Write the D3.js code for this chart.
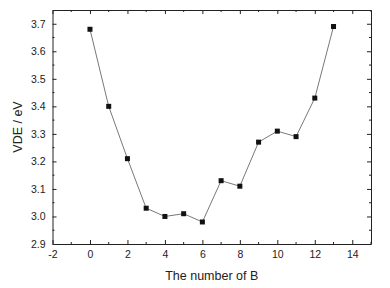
<!DOCTYPE html>
<html>
<head>
<meta charset="utf-8">
<script src="https://cdn.jsdelivr.net/npm/d3@7"></script>
<style>
  body { margin: 0; background: #fff; }
  svg text { font-family: "Liberation Sans", Arial, sans-serif; fill: #222; }
</style>
</head>
<body>
<svg id="chart" width="390" height="288"></svg>
<script>
// data
const nB = [0, 1, 2, 3, 4, 5, 6, 7, 8, 9, 10, 11, 12, 13];
const vde = [3.68, 3.40, 3.21, 3.03, 3.00, 3.01, 2.98, 3.13, 3.11, 3.27, 3.31, 3.29, 3.43, 3.69];
const xTicks = [-2, 0, 2, 4, 6, 8, 10, 12, 14];
const yTicks = [2.9, 3.0, 3.1, 3.2, 3.3, 3.4, 3.5, 3.6, 3.7];

const svg = d3.select("#chart");
const m = { left: 52.5, right: 19, top: 10, bottom: 44 };
const W = 390, H = 288;

const x = d3.scaleLinear().domain([-2, 15]).range([m.left, W - m.right]);
const y = d3.scaleLinear().domain([2.9, 3.75]).range([H - m.bottom, m.top]);

const minorX = d3.range(-1, 16, 2);
const minorY = d3.range(2.95, 3.75, 0.1);

function ticks(g, axis, major) {
  g.call(axis.tickValues(major).tickSizeInner(-4).tickSizeOuter(0))
    .call(a => a.select(".domain").attr("stroke", "#222").attr("stroke-width", 1));
  g.selectAll(".tick line").attr("stroke", "#222");
  g.selectAll(".tick text").attr("font-size", 10.5).attr("fill", "#222");
  return g;
}

// bottom
const gx = svg.append("g").attr("transform", `translate(0,${H - m.bottom})`);
ticks(gx, d3.axisBottom(x).tickFormat(d => String(d)), xTicks);
gx.selectAll(".tick text").attr("y", 7).attr("dy", "0.71em");
gx.selectAll(".minor").data(minorX).join("line")
  .attr("x1", d => x(d)).attr("x2", d => x(d)).attr("y1", 0).attr("y2", -2)
  .attr("stroke", "#222");

// top
const gxt = svg.append("g").attr("transform", `translate(0,${m.top})`);
ticks(gxt, d3.axisTop(x).tickFormat(""), xTicks);
gxt.selectAll(".tick line").attr("y2", 4);
gxt.selectAll(".minor").data(minorX).join("line")
  .attr("x1", d => x(d)).attr("x2", d => x(d)).attr("y1", 0).attr("y2", 2)
  .attr("stroke", "#222");

// left
const gy = svg.append("g").attr("transform", `translate(${m.left},0)`);
ticks(gy, d3.axisLeft(y).tickFormat(d3.format(".1f")), yTicks);
gy.selectAll(".tick text").attr("x", -7);
gy.selectAll(".minor").data(minorY).join("line")
  .attr("y1", d => y(d)).attr("y2", d => y(d)).attr("x1", 0).attr("x2", 2)
  .attr("stroke", "#222");

// right
const gyr = svg.append("g").attr("transform", `translate(${W - m.right},0)`);
ticks(gyr, d3.axisRight(y).tickFormat(""), yTicks);
gyr.selectAll(".tick line").attr("x2", -4);
gyr.selectAll(".minor").data(minorY).join("line")
  .attr("y1", d => y(d)).attr("y2", d => y(d)).attr("x1", 0).attr("x2", -2)
  .attr("stroke", "#222");

// line + markers
const pts = nB.map((n, i) => [n, vde[i]]);
svg.append("path")
  .datum(pts)
  .attr("fill", "none")
  .attr("stroke", "#555")
  .attr("stroke-width", 0.8)
  .attr("d", d3.line().x(d => x(d[0])).y(d => y(d[1])));

const s = 5;
svg.append("g").selectAll("rect").data(pts).join("rect")
  .attr("x", d => x(d[0]) - s / 2)
  .attr("y", d => y(d[1]) - s / 2)
  .attr("width", s).attr("height", s)
  .attr("fill", "#111");

// titles
svg.append("text")
  .attr("x", (m.left + W - m.right) / 2)
  .attr("y", 280)
  .attr("text-anchor", "middle")
  .attr("font-size", 12.5)
  .text("The number of B");

svg.append("text")
  .attr("transform", `translate(22,${(m.top + H - m.bottom) / 2}) rotate(-90)`)
  .attr("text-anchor", "middle")
  .attr("font-size", 12.5)
  .text("VDE / eV");
</script>
</body>
</html>
